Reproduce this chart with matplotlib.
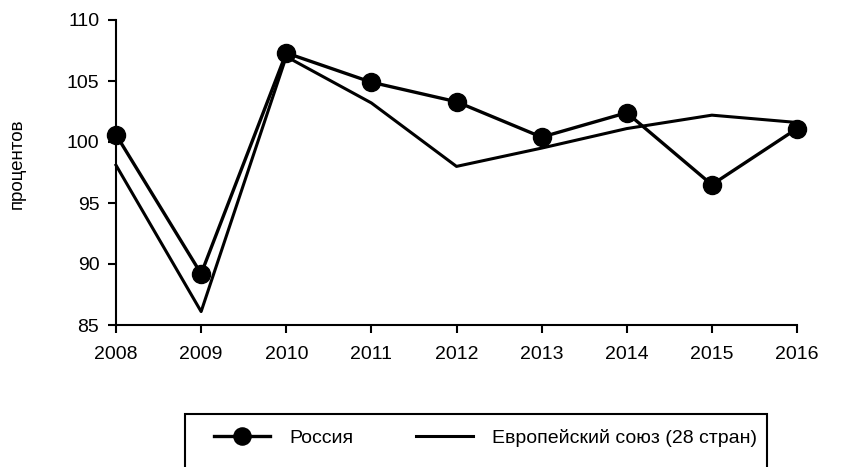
import matplotlib.pyplot as plt
from matplotlib.patches import Rectangle

plt.rcParams['font.family'] = ['Liberation Sans', 'DejaVu Sans']

years = [2008, 2009, 2010, 2011, 2012, 2013, 2014, 2015, 2016]
russia = [100.6, 89.2, 107.3, 104.9, 103.3, 100.4, 102.4, 96.5, 101.1]
eu28 = [98.1, 86.1, 107.0, 103.2, 98.0, 99.5, 101.1, 102.2, 101.6]
yticks = [85, 90, 95, 100, 105, 110]

fig = plt.figure(figsize=(8.47, 4.67), dpi=100)
ax = fig.add_axes([116/847, 1-325/467, (797-116)/847, (325-20)/467])

l1, = ax.plot(years, russia, color='black', lw=2.4, marker='o', markersize=13, label='Россия',
              clip_on=False, zorder=3)
l2, = ax.plot(years, eu28, color='black', lw=2.2, label='Европейский союз (28 стран)',
              clip_on=False, zorder=2)

ax.set_xlim(2008, 2016)
ax.set_ylim(85, 110)
ax.set_xticks(years)
ax.set_yticks(yticks)
ax.spines['top'].set_visible(False)
ax.spines['right'].set_visible(False)
for s in ['left', 'bottom']:
    ax.spines[s].set_linewidth(1.5)
ax.tick_params(axis='both', direction='out', length=6, width=1.5, labelsize=14)
ax.tick_params(axis='x', pad=9)
ax.tick_params(axis='y', pad=6)
ax.set_ylabel('процентов', fontsize=13.5)
ax.yaxis.set_label_coords(-0.133, 0.53)

# legend box (bottom cut off by figure edge, as in reference)
fig.patches.append(Rectangle((185/847, -0.05), (767-185)/847, 0.05 + 1-414/467,
                             transform=fig.transFigure, fill=False, ec='black', lw=1.5))
fig.legend(handles=[l1, l2], loc='center left', bbox_to_anchor=(214/847, 1-438/467),
           ncol=2, frameon=False, fontsize=14, handlelength=2.9, handletextpad=1.0,
           columnspacing=3.2, markerscale=0.95, borderpad=0, borderaxespad=0)

fig.savefig('out.png', dpi=100)
